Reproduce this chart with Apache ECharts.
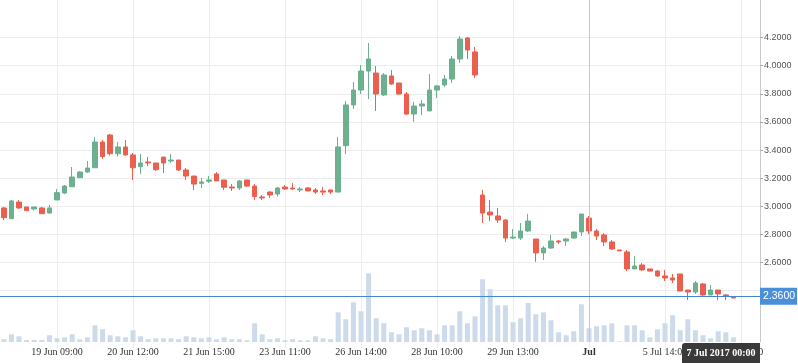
<!DOCTYPE html>
<html><head><meta charset="utf-8">
<script src="https://cdn.jsdelivr.net/npm/echarts@6/dist/echarts.min.js"></script>
<style>html,body{margin:0;padding:0;background:#fff}#c{width:798px;height:363px}</style>
</head><body><div id="c"></div>
<script>
// ---- data ----
const slotCount = 100;          // category slots on the axis
const tickIndexStart = 7;       // first labelled slot
const tickStep = 10;            // labelled every 10 slots
const tickLabels = ['19 Jun 09:00','20 Jun 12:00','21 Jun 15:00','23 Jun 11:00','26 Jun 14:00','28 Jun 10:00','29 Jun 13:00','Jul','5 Jul 14:00','6 Jul 16:00'];
const boldLabel = 'Jul';
const priceTicks = [2.4, 2.6, 2.8, 3.0, 3.2, 3.4, 3.6, 3.8, 4.0, 4.2];
const priceLabels = [2.6, 2.8, 3.0, 3.2, 3.4, 3.6, 3.8, 4.0, 4.2];

const openV = [2.988,2.912,3.030,2.995,2.981,2.988,2.952,3.045,3.094,3.139,3.203,3.244,3.274,3.457,3.507,3.374,3.422,3.365,3.282,3.315,
3.308,3.350,3.322,3.329,3.258,3.215,3.163,3.178,3.230,3.187,3.137,3.130,3.187,3.144,3.066,3.101,3.087,3.137,3.130,3.116,
3.130,3.116,3.109,3.116,3.101,3.431,3.721,3.827,3.962,3.948,3.792,3.927,3.877,3.799,3.656,3.713,3.678,3.827,3.863,3.905,
4.048,4.197,4.098,3.080,2.959,2.931,2.902,2.774,2.774,2.824,2.767,2.668,2.703,2.753,2.753,2.774,2.817,2.916,2.824,2.796,
2.746,2.689,2.675,2.554,2.582,2.554,2.539,2.504,2.490,2.518,2.404,2.390,2.447,2.369,2.404,2.369,2.355];
const closeV = [2.919,3.038,2.988,2.969,2.995,2.947,2.988,3.097,3.144,3.208,3.244,3.272,3.457,3.353,3.374,3.422,3.365,3.274,3.308,3.308,
3.260,3.308,3.329,3.258,3.215,3.158,3.173,3.187,3.180,3.135,3.130,3.180,3.144,3.069,3.059,3.080,3.130,3.123,3.123,3.123,
3.109,3.101,3.101,3.101,3.422,3.721,3.827,3.962,4.048,3.799,3.934,3.870,3.799,3.656,3.713,3.728,3.827,3.856,3.905,4.048,
4.190,4.112,3.934,2.952,2.938,2.902,2.774,2.781,2.824,2.895,2.668,2.703,2.753,2.746,2.767,2.817,2.945,2.824,2.788,2.746,
2.696,2.682,2.554,2.575,2.547,2.539,2.504,2.490,2.475,2.397,2.390,2.454,2.369,2.404,2.376,2.362,2.347];
const lowV = [2.902,2.912,2.981,2.969,2.969,2.947,2.947,3.045,3.087,3.139,3.203,3.237,3.274,3.338,3.360,3.353,3.360,3.187,3.230,3.286,
3.251,3.237,3.308,3.251,3.187,3.116,3.130,3.166,3.180,3.116,3.109,3.116,3.137,3.045,3.045,3.059,3.069,3.116,3.116,3.101,
3.109,3.087,3.080,3.087,3.101,3.372,3.692,3.799,3.763,3.678,3.785,3.863,3.792,3.649,3.600,3.649,3.678,3.770,3.849,3.877,
4.019,4.048,3.913,2.881,2.895,2.881,2.746,2.767,2.760,2.817,2.604,2.618,2.696,2.732,2.717,2.767,2.788,2.803,2.760,2.717,
2.689,2.682,2.539,2.554,2.539,2.539,2.497,2.468,2.454,2.397,2.333,2.376,2.362,2.369,2.333,2.333,2.347];
const highV = [2.995,3.045,3.045,2.995,2.995,2.995,3.009,3.123,3.151,3.279,3.249,3.322,3.493,3.471,3.514,3.457,3.471,3.379,3.372,3.350,
3.308,3.350,3.372,3.329,3.272,3.215,3.201,3.215,3.244,3.187,3.158,3.187,3.187,3.158,3.080,3.109,3.137,3.151,3.166,3.137,
3.137,3.130,3.137,3.116,3.493,3.749,3.884,4.005,4.162,3.998,3.948,3.969,3.877,3.813,3.742,3.756,3.941,3.863,3.934,4.069,
4.211,4.204,4.133,3.116,3.045,2.988,2.909,2.838,2.881,2.945,2.767,2.717,2.796,2.760,2.774,2.817,2.945,2.931,2.838,2.810,
2.760,2.689,2.689,2.646,2.596,2.554,2.547,2.547,2.518,2.518,2.404,2.468,2.454,2.440,2.404,2.376,2.355];
const volume = [27,77,57,20,20,20,67,37,47,77,27,47,167,127,67,57,47,117,57,27,
37,37,37,27,57,47,37,47,27,47,27,27,17,187,77,27,37,17,27,17,
17,57,37,27,297,227,397,307,687,237,187,97,77,147,117,137,117,77,167,167,
307,187,257,627,527,367,367,197,237,390,277,297,217,97,67,107,377,137,157,167,
187,7,167,167,117,47,127,187,267,117,227,117,67,37,107,97,47];
const lastPrice = 2.36;
const pointerLabel = '7 Jul 2017 00:00';

// ---- build ----
const isTick = i => i >= tickIndexStart && (i - tickIndexStart) % tickStep === 0 && (i - tickIndexStart) / tickStep < tickLabels.length;
const categories = [];
for (let i = 0; i < slotCount; i++) categories.push(isTick(i) ? tickLabels[(i - tickIndexStart) / tickStep] : 'slot' + i);
const candles = openV.map((o, i) => [o, closeV[i], lowV[i], highV[i]]);

const UP = '#6bb08f', DOWN = '#eb5f4f';
const chart = echarts.init(document.getElementById('c'), null, {renderer: 'canvas'});
chart.setOption({
  animation: false,
  backgroundColor: '#fff',
  grid: [
    {left: 0, right: 38, top: 37.6, bottom: 44.3},
    {left: 0, right: 38, top: 0, bottom: 21}
  ],
  xAxis: [
    {type: 'category', gridIndex: 0, data: categories, boundaryGap: true, show: false},
    {type: 'category', gridIndex: 1, data: categories, boundaryGap: true,
      axisLine: {show: false},
      axisTick: {show: true, alignWithLabel: true, interval: isTick, length: 6, lineStyle: {color: '#ececec'}},
      axisLabel: {interval: isTick, margin: 5, fontFamily: 'Liberation Serif', fontSize: 10, color: '#333',
        formatter: v => v === boldLabel ? '{b|' + v + '}' : v,
        rich: {b: {fontWeight: 'bold', fontFamily: 'Liberation Serif', fontSize: 10, color: '#333'}}},
      splitLine: {show: true, interval: isTick, alignWithLabel: true, lineStyle: {color: '#ececec', width: 1}}
    }
  ],
  yAxis: [
    {type: 'value', gridIndex: 0, position: 'right', min: 2.2, max: 4.2, interval: 0.2,
      axisLine: {show: false},
      axisTick: {show: true, length: 3, customValues: priceTicks, lineStyle: {color: '#aaa'}},
      axisLabel: {customValues: priceLabels, formatter: v => v.toFixed(4), margin: 4, fontSize: 9, fontFamily: 'Liberation Sans', color: '#555'},
      splitLine: {show: true, lineStyle: {color: '#ececec', width: 1}}
    },
    {type: 'value', gridIndex: 1, position: 'right', min: 0, max: 3420,
      axisLine: {show: true, lineStyle: {color: '#c8c8c8'}},
      axisTick: {show: false}, axisLabel: {show: false}, splitLine: {show: false}
    }
  ],
  series: [
    {type: 'bar', xAxisIndex: 1, yAxisIndex: 1, data: volume, barWidth: 5, silent: true,
      itemStyle: {color: '#ccdaeb'}, z: 1,
      markLine: {symbol: 'none', silent: true, label: {show: false},
        lineStyle: {color: '#c8c8c8', type: 'solid', width: 1},
        data: [{xAxis: boldLabel}]}
    },
    {type: 'candlestick', xAxisIndex: 0, yAxisIndex: 0, data: candles, barWidth: 5, clip: false, z: 3,
      itemStyle: {color: UP, color0: DOWN, borderColor: UP, borderColor0: DOWN, borderWidth: 1},
      markLine: {symbol: 'none', silent: true, z: 5,
        lineStyle: {color: '#4287d3', type: 'solid', width: 1},
        label: {show: true, position: 'end', distance: 0, formatter: () => lastPrice.toFixed(4),
          backgroundColor: '#4b8fd8', color: '#fff', fontSize: 10.5, fontFamily: 'Liberation Sans', padding: [3, 2, 3, 3]},
        data: [{yAxis: lastPrice}]}
    }
  ],
  graphic: [
    {type: 'rect', z: 100, shape: {x: 682, y: 343, width: 78, height: 20, r: [3, 0, 0, 0]}, style: {fill: '#3a3a3a'}},
    {type: 'text', z: 101, x: 721, y: 353, style: {text: pointerLabel, fill: '#fff', font: 'bold 10px "Liberation Serif"', align: 'center', verticalAlign: 'middle'}}
  ]
});
</script></body></html>
